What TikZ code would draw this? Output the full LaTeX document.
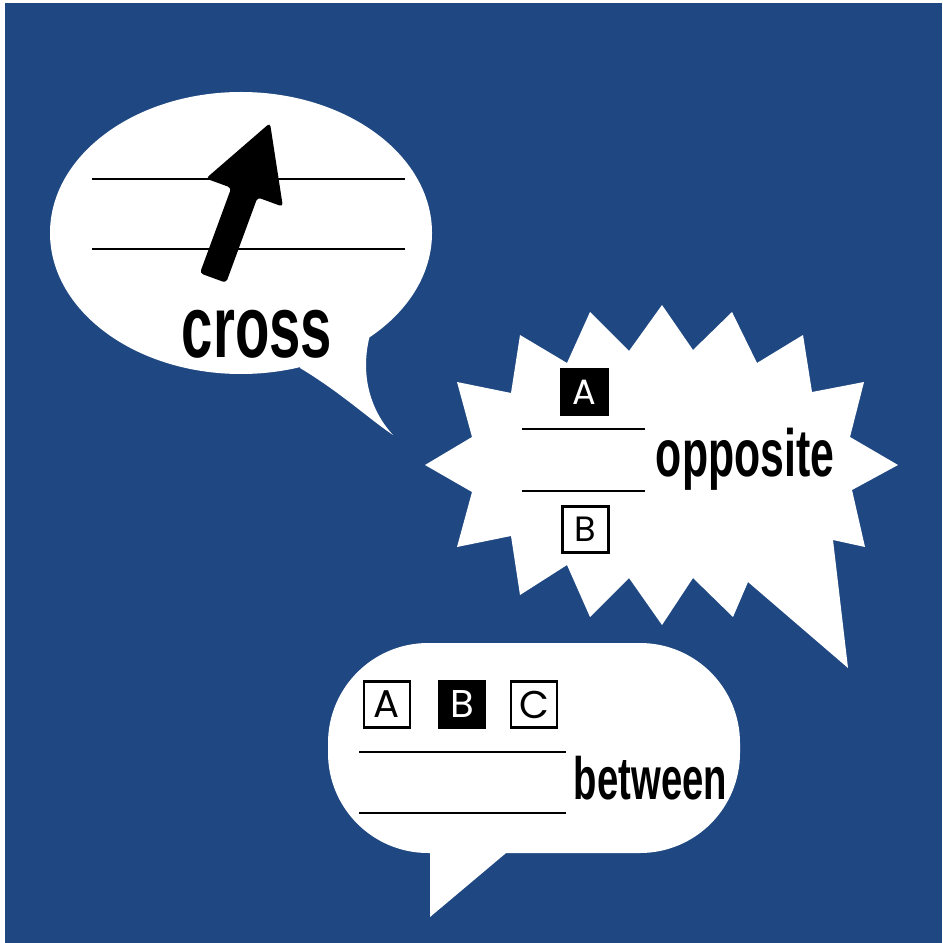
\documentclass[tikz,border=0pt]{standalone}
\usepackage{fontspec}
\newfontfamily\narrowfont[FakeStretch=0.64]{Liberation Sans}
\newfontfamily\boxfont{Poppins}
\definecolor{bgblue}{RGB}{31,72,130}

\begin{document}
\begin{tikzpicture}[
  x=0.01cm, y=-0.01cm,
  bubble/.style={fill=white},
  word/.style={inner sep=0, anchor=base, text=black},
  letterbox/.style={draw, line width=0.7pt, minimum size=0.46cm, inner sep=0, fill=white, font=\boxfont\fontsize{10}{12}\selectfont},
  filledbox/.style={letterbox, fill=black, text=white},
  rule/.style={line width=0.8pt}
]
\useasboundingbox (0,0) rectangle (942,943);
\fill[white] (0,0) rectangle (942,943);
\fill[bgblue] (5,3) rectangle (942,943);

% cross bubble
\fill[bubble] (241,233) ellipse [x radius=191, y radius=141];
\fill[bubble] (300,368) .. controls (340,392) and (368,418) .. (393,435)
  .. controls (370,410) and (358,372) .. (372,328) -- (320,320) -- cycle;
\draw[rule] (92,179) -- (405,179);
\draw[rule] (92,249) -- (405,249);
\fill[black, rounded corners=1pt] (199.9,273.2) -- (231.3,187.8) -- (205.9,178.5)
  -- (270,123) -- (282.9,206.7) -- (257.5,197.4) -- (226.1,282.8) -- cycle;
\node[word, font=\narrowfont\bfseries\fontsize{25}{30}\selectfont] (cross) at (257,357) {cross};

% opposite bubble
\fill[bubble] (425,465) -- (472,437) -- (457,382) -- (511,393) -- (520,335) -- (567,363)
  -- (590,312) -- (629,351) -- (662,305) -- (693,350) -- (732,312) -- (757,363)
  -- (803,335) -- (812,392) -- (864,382) -- (850,437) -- (898,465) -- (852,490)
  -- (865,547) -- (833,540) -- (848,668) -- (748,582) -- (733,617) -- (693,578)
  -- (662,625) -- (629,578) -- (590,617) -- (567,565) -- (520,595) -- (511,536)
  -- (457,547) -- (472,492) -- cycle;
\node[filledbox] (oppA) at (584.5,392) {A};
\draw[rule] (522,429) -- (645,429);
\draw[rule] (522,491) -- (645,491);
\node[letterbox] (oppB) at (585.5,529.5) {B};
\node[word, font=\narrowfont\bfseries\fontsize{19}{23}\selectfont] (opposite) at (745,476) {opposite};

% between bubble
\fill[bubble, rounded corners=1cm] (328,643) rectangle (740,853);
\fill[bubble] (430,848) -- (430,917) -- (512,848) -- cycle;
\node[letterbox, font=\boxfont\fontsize{11}{13}\selectfont] (betA) at (387,704.5) {A};
\node[filledbox, font=\boxfont\fontsize{11}{13}\selectfont] (betB) at (462,704.5) {B};
\node[letterbox, font=\boxfont\fontsize{11}{13}\selectfont] (betC) at (534,704.5) {C};
\draw[rule] (359,752) -- (566,752);
\draw[rule] (359,813) -- (566,813);
\node[word, font=\narrowfont\bfseries\fontsize{17}{20}\selectfont] (between) at (650.5,799) {between};
\end{tikzpicture}
\end{document}
